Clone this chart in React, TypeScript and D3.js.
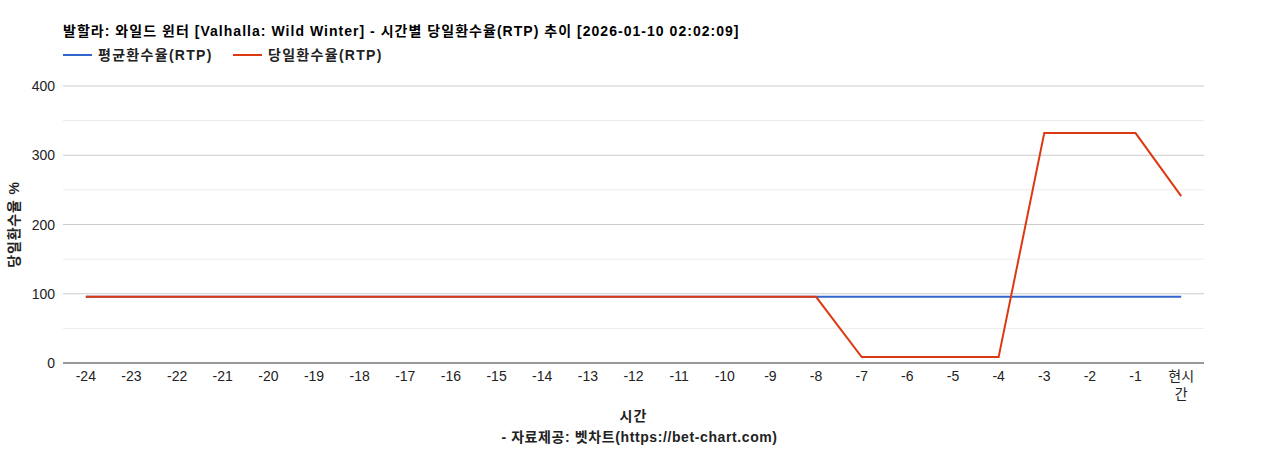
import React from "react";
import * as d3 from "d3";

const categories: string[] = [
  "-24","-23","-22","-21","-20","-19","-18","-17","-16","-15","-14","-13",
  "-12","-11","-10","-9","-8","-7","-6","-5","-4","-3","-2","-1","현시간",
];
const avgRtp: number[] = [
  95.5,95.5,95.5,95.5,95.5,95.5,95.5,95.5,95.5,95.5,95.5,95.5,
  95.5,95.5,95.5,95.5,95.5,95.5,95.5,95.5,95.5,95.5,95.5,95.5,95.5,
];
const dailyRtp: number[] = [
  95.5,95.5,95.5,95.5,95.5,95.5,95.5,95.5,95.5,95.5,95.5,95.5,
  95.5,95.5,95.5,95.5,95.5,8.5,8.5,8.5,8.5,332,332,332,241,
];
const yTicks: number[] = [0, 100, 200, 300, 400];
const yMinorTicks: number[] = [50, 150, 250, 350];

const titleText = "발할라: 와일드 윈터 [Valhalla: Wild Winter] - 시간별 당일환수율(RTP) 추이 [2026-01-10 02:02:09]";
const seriesNames = ["평균환수율(RTP)", "당일환수율(RTP)"];
const colors = ["#3366cc", "#dc3912"];

const W = 1268, H = 450;
const left = 63, right = 1204, top = 86, bottom = 363;
const FONT = "'Liberation Sans', Arial, 'Noto Sans CJK KR', sans-serif";

export default function App() {
  const x = d3.scaleBand<string>().domain(categories).range([left, right]);
  const y = d3.scaleLinear().domain([0, 400]).range([bottom, top]);
  const cx = (c: string) => (x(c) ?? 0) + x.bandwidth() / 2;
  const line = d3.line<number>().x((_, i) => cx(categories[i])).y((v) => y(v));
  const series = [avgRtp, dailyRtp];

  return (
    <svg width={W} height={H} style={{ position: "absolute", left: 0, top: 0, background: "#fff" }} fontFamily={FONT}>
      <rect width={W} height={H} fill="#fff" />
      <text x={63} y={36} fontSize={14} fontWeight="bold" fill="#000" letterSpacing={1.03}>{titleText}</text>
      {seriesNames.map((n, i) => {
        const lx = i === 0 ? 63 : 233;
        return (
          <g key={n}>
            <line x1={lx} x2={lx + 29} y1={55} y2={55} stroke={colors[i]} strokeWidth={2} />
            <text x={lx + 35} y={60} fontSize={14} fontWeight="bold" fill="#222" letterSpacing={1.3}>{n}</text>
          </g>
        );
      })}
      {yMinorTicks.map((t) => (
        <line key={"m" + t} x1={left} x2={right} y1={y(t)} y2={y(t)} stroke="#ebebeb" strokeWidth={1} />
      ))}
      {yTicks.map((t) => (
        <g key={t}>
          {t !== 0 && <line x1={left} x2={right} y1={y(t)} y2={y(t)} stroke="#cccccc" strokeWidth={1} />}
          <text x={55} y={y(t) + 5} fontSize={14} textAnchor="end" fill="#222">{t}</text>
        </g>
      ))}
      {series.map((s, i) => (
        <path key={i} d={line(s) ?? ""} fill="none" stroke={colors[i]} strokeWidth={2} />
      ))}
      <line x1={left} x2={right} y1={bottom} y2={bottom} stroke="#333" strokeWidth={1} />
      {categories.map((c) =>
        c === "현시간" ? (
          <text key={c} x={cx(c)} y={381} fontSize={14} textAnchor="middle" fill="#222">
            <tspan x={cx(c)} dy={0}>현시</tspan>
            <tspan x={cx(c)} dy={18}>간</tspan>
          </text>
        ) : (
          <text key={c} x={cx(c)} y={381} fontSize={14} textAnchor="middle" fill="#222">{c}</text>
        )
      )}
      <text x={(left + right) / 2} y={421} fontSize={14} fontWeight="bold" textAnchor="middle" fill="#222" letterSpacing={1}>시간</text>
      <text x={(left + right) / 2 + 6} y={442} fontSize={14} fontWeight="bold" textAnchor="middle" fill="#222" letterSpacing={0.6}>- 자료제공: 벳차트(https://bet-chart.com)</text>
      <text transform={`translate(19, ${(top + bottom) / 2}) rotate(-90)`} fontSize={14} fontWeight="bold" textAnchor="middle" fill="#222" letterSpacing={0.8}>당일환수율 %</text>
    </svg>
  );
}
